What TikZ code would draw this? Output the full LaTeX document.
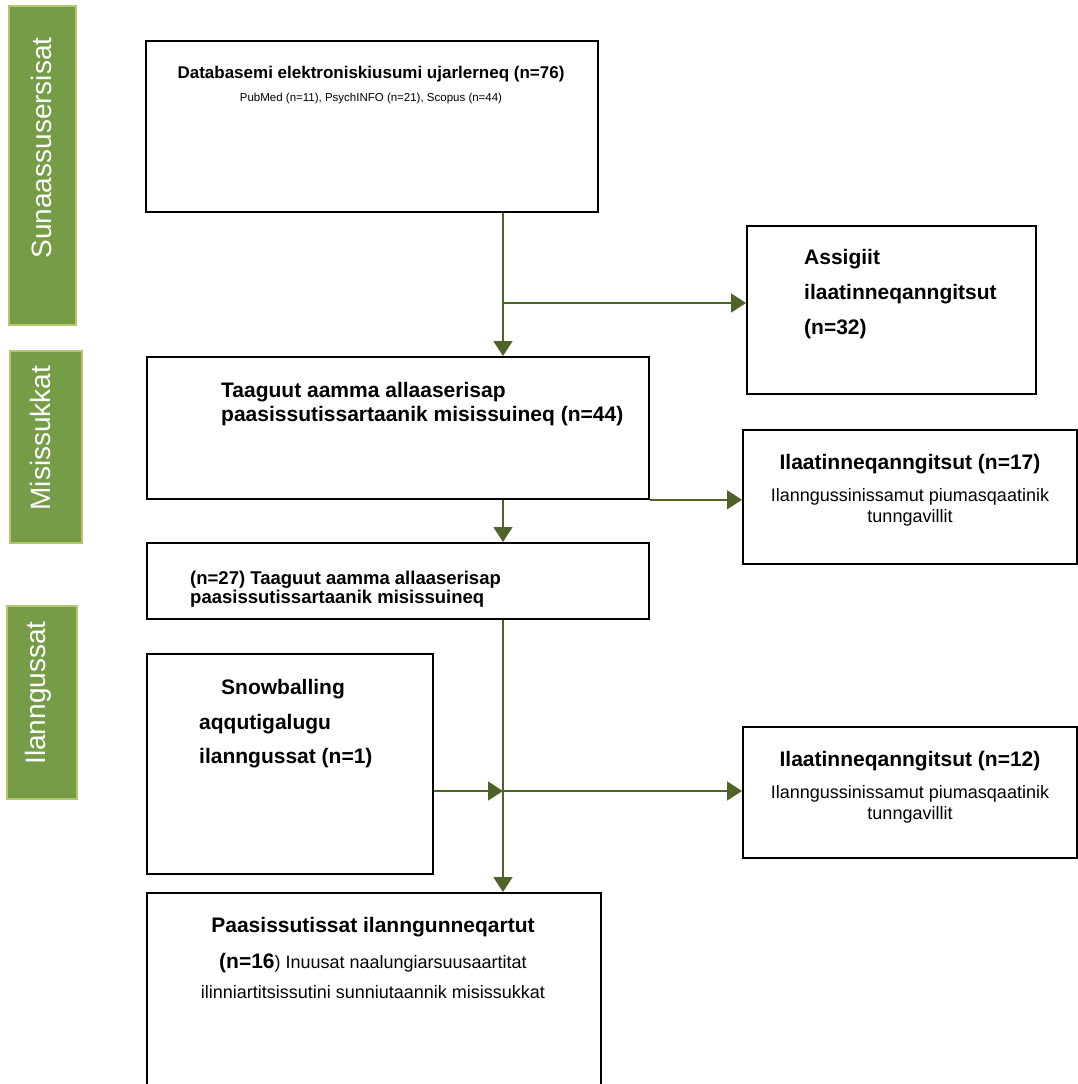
\documentclass[tikz,border=0pt]{standalone}
\usepackage{fontspec}
\setmainfont{Liberation Sans}
\usetikzlibrary{arrows.meta}

\definecolor{phasegreen}{RGB}{118,156,72}
\definecolor{phaseedge}{RGB}{180,198,112}
\definecolor{flowgreen}{RGB}{79,98,40}

\tikzset{
  box/.style={draw, line width=1.8pt, anchor=north west, inner sep=0pt},
  flow/.style={draw=flowgreen, line width=1.6pt, -{Triangle[length=15pt,width=19pt]}},
  phase/.style={fill=phasegreen, draw=phaseedge, line width=2pt},
  phasetext/.style={rotate=90, anchor=base, text=white, inner sep=0pt, font=\fontsize{28}{30}\selectfont},
  head/.style={inner sep=0pt, font=\bfseries\fontsize{21}{25}\selectfont},
  plain/.style={inner sep=0pt, font=\fontsize{18}{21}\selectfont}
}

\begin{document}
\begin{tikzpicture}[x=1pt, y=-1pt]
        \useasboundingbox (0,0) rectangle (1078,1084);
        \clip (0,0) rectangle (1078,1084);

        % Draw the phase bars
        \draw[phase] (9,6) rectangle (76,325);
        \draw[phase] (10,351) rectangle (82,543);
        \draw[phase] (7,606) rectangle (77,799);
        \node[phasetext] (ph1) at (51,148) {Sunaassusersisat};
        \node[phasetext] (ph2) at (50,438) {Misissukkat};
        \node[phasetext] (ph3) at (45,693) {Ilanngussat};

        % Define the boxes
        \node[box, minimum width=452pt, minimum height=171pt] (db) at (145,40) {};
        \node[box, minimum width=289pt, minimum height=168pt] (excl1) at (746,225) {};
        \node[box, minimum width=502pt, minimum height=142pt] (scr) at (146,356) {};
        \node[box, minimum width=334pt, minimum height=134pt] (excl2) at (742,429) {};
        \node[box, minimum width=502pt, minimum height=76pt] (elig) at (146,542) {};
        \node[box, minimum width=286pt, minimum height=220pt] (snow) at (146,653) {};
        \node[box, minimum width=334pt, minimum height=131pt] (excl3) at (742,726) {};
        \node[box, minimum width=454pt, minimum height=200pt] (incl) at (146,892) {};

        % Texts in the boxes
        \node[anchor=base, inner sep=0pt, font=\bfseries\fontsize{17}{20}\selectfont] (dbhead) at (371,78) {Databasemi elektroniskiusumi ujarlerneq (n=76)};
        \node[anchor=base, inner sep=0pt, font=\fontsize{11.5}{14}\selectfont] (dbsub) at (371,101) {PubMed (n=11), PsychINFO (n=21), Scopus (n=44)};

        \node[head, anchor=base west] (ex1a) at (804,264) {Assigiit};
        \node[head, anchor=base west] (ex1b) at (804,299) {ilaatinneqanngitsut};
        \node[head, anchor=base west] (ex1c) at (804,334) {(n=32)};

        \node[head, anchor=base west] (scra) at (221,397) {Taaguut aamma allaaserisap};
        \node[head, anchor=base west] (scrb) at (221,421) {paasissutissartaanik misissuineq (n=44)};

        \node[head, anchor=base] (ex2a) at (910,469) {Ilaatinneqanngitsut (n=17)};
        \node[plain, anchor=base] (ex2b) at (910,501) {Ilanngussinissamut piumasqaatinik};
        \node[plain, anchor=base] (ex2c) at (910,522) {tunngavillit};

        \node[anchor=base west, inner sep=0pt, font=\bfseries\fontsize{18.5}{21}\selectfont] (eliga) at (190,584) {(n=27) Taaguut aamma allaaserisap};
        \node[anchor=base west, inner sep=0pt, font=\bfseries\fontsize{18.5}{21}\selectfont] (eligb) at (190,603) {paasissutissartaanik misissuineq};

        \node[head, anchor=base west] (snowa) at (221,694) {Snowballing};
        \node[head, anchor=base west] (snowb) at (199,729) {aqqutigalugu};
        \node[head, anchor=base west] (snowc) at (199,763) {ilanngussat (n=1)};

        \node[head, anchor=base] (ex3a) at (910,766) {Ilaatinneqanngitsut (n=12)};
        \node[plain, anchor=base] (ex3b) at (910,798) {Ilanngussinissamut piumasqaatinik};
        \node[plain, anchor=base] (ex3c) at (910,819) {tunngavillit};

        \node[head, anchor=base] (incla) at (373,932) {Paasissutissat ilanngunneqartut};
        \node[plain, anchor=base] (inclb) at (373,968) {{\bfseries\fontsize{21}{25}\selectfont (n=16}) Inuusat naalungiarsuusaartitat};
        \node[plain, anchor=base] (inclc) at (373,998) {ilinniartitsissutini sunniutaannik misissukkat};

        % Draw the flow
        \coordinate (j1) at (503,303);
        \coordinate (j3) at (503,791);
        \draw[flow] (db.south -| j1) -- (scr.north -| j1);
        \draw[flow] (j1) -- (j1 -| excl1.west);
        \draw[flow] (scr.south -| j1) -- (elig.north -| j1);
        \draw[flow] (scr.south east) -- (scr.south east -| excl2.west);
        \draw[flow] (elig.south -| j3) -- (incl.north -| j3);
        \draw[flow] (snow.east |- j3) -- (j3);
        \draw[flow] (j3) -- (j3 -| excl3.west);
    \end{tikzpicture}
\end{document}
